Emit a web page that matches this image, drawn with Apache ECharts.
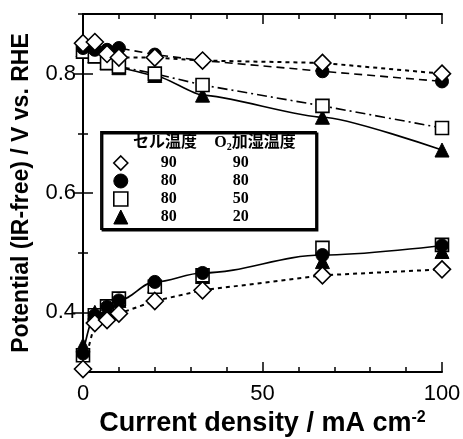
<!DOCTYPE html>
<html><head><meta charset="utf-8">
<script src="https://cdn.jsdelivr.net/npm/echarts@6/dist/echarts.min.js"></script>
<style>html,body{margin:0;padding:0;background:#fff}#c{width:463px;height:439px}</style>
</head><body><div id="c"></div>
<script>
// Current density (mA cm^-2)
const xValues = [0, 3.3, 6.7, 10, 20, 33.3, 66.7, 100];
const xTickLabels = [0, 50, 100];
const yTickLabels = [0.4, 0.6, 0.8];
// Legend table: cell temp / O2 humidifier temp
const cellTemp = ['90', '80', '80', '80'];
const o2Temp = ['90', '80', '50', '20'];
const seriesNames = ['90/90', '80/80', '80/50', '80/20'];
// Upper branch
const d9090Hi = [0.851, 0.853, 0.833, 0.827, 0.827, 0.822, 0.818, 0.800];
const c8080Hi = [0.843, 0.840, 0.840, 0.843, 0.832, 0.822, 0.804, 0.787];
const s8050Hi = [0.837, 0.829, 0.818, 0.812, 0.800, 0.781, 0.746, 0.709];
const t8020Hi = [0.840, 0.830, 0.818, 0.810, 0.797, 0.764, 0.727, 0.672];
// Lower branch
const d9090Lo = [0.305, 0.382, 0.387, 0.398, 0.419, 0.437, 0.462, 0.472];
const c8080Lo = [0.331, 0.395, 0.409, 0.420, 0.451, 0.466, 0.496, 0.512];
const s8050Lo = [0.328, 0.395, 0.410, 0.423, 0.443, 0.462, 0.508, 0.513];
const t8020Lo = [0.345, 0.400, 0.405, 0.420, 0.445, 0.460, 0.485, 0.502];

const pts = ys => xValues.map((x, i) => [x, ys[i]]);
const chart = echarts.init(document.getElementById('c'), null, {renderer: 'canvas'});

const hollow = {color: '#fff', borderColor: '#000', borderWidth: 1.6};
const filled = {color: '#000', borderColor: '#000', borderWidth: 1};
const mk = (name, data, symbol, size, item, line, smooth) => ({
  type: 'line', name, data: pts(data), symbol, symbolSize: size,
  itemStyle: item, smooth: smooth || false, smoothMonotone: 'x',
  lineStyle: line ? Object.assign({color: '#000', width: 1.6}, line) : {width: 0, opacity: 0},
  showSymbol: true, animation: false, z: 3
});

const base = 'Liberation Sans';
const serif = "'Liberation Serif', 'Noto Sans CJK JP'";

const option = {
  backgroundColor: '#fff',
  animation: false,
  grid: {left: 83, right: 21, top: 14, bottom: 67, containLabel: false, outerBoundsMode: 'none'},
  xAxis: [
    {type: 'value', min: 0, max: 100, interval: 10, position: 'bottom',
     axisLine: {lineStyle: {color: '#000', width: 2}},
     axisTick: {inside: true, length: 5, lineStyle: {color: '#000', width: 1.5}},
     axisLabel: {customValues: xTickLabels, fontFamily: base, fontSize: 22, color: '#000', margin: 11},
     splitLine: {show: false},
     name: 'Current density / mA cm{sup|-2}', nameLocation: 'middle', nameGap: 38,
     nameTextStyle: {fontFamily: base, fontWeight: 'bold', fontSize: 27, color: '#000',
       rich: {sup: {fontFamily: base, fontWeight: 'bold', fontSize: 16, color: '#000', verticalAlign: 'top', padding: [0,0,12,0]}}}},
    {type: 'value', min: 0, max: 100, interval: 50, position: 'bottom', gridIndex: 0,
     axisLine: {show: false}, axisLabel: {show: false}, splitLine: {show: false},
     axisTick: {inside: true, length: 10, lineStyle: {color: '#000', width: 1.5}}},
    {type: 'value', min: 0, max: 100, interval: 10, position: 'top',
     axisLine: {lineStyle: {color: '#000', width: 2}}, axisLabel: {show: false}, splitLine: {show: false},
     axisTick: {inside: true, length: 5, lineStyle: {color: '#000', width: 1.5}}},
    {type: 'value', min: 0, max: 100, interval: 50, position: 'top',
     axisLine: {show: false}, axisLabel: {show: false}, splitLine: {show: false},
     axisTick: {inside: true, length: 10, lineStyle: {color: '#000', width: 1.5}}}
  ],
  yAxis: [
    {type: 'value', min: 0.3, max: 0.9, interval: 0.1, position: 'left',
     axisLine: {lineStyle: {color: '#000', width: 2}},
     axisTick: {inside: true, length: 5, lineStyle: {color: '#000', width: 1.5}},
     axisLabel: {customValues: yTickLabels, formatter: v => v.toFixed(1), fontFamily: base, fontSize: 22, color: '#000', margin: 7},
     splitLine: {show: false},
     name: 'Potential (IR-free) / V vs. RHE', nameLocation: 'middle', nameGap: 50,
     nameTextStyle: {fontFamily: base, fontWeight: 'bold', fontSize: 23, color: '#000'}},
    {type: 'value', min: 0.3, max: 0.9, interval: 0.1, position: 'left',
     axisLine: {show: false}, axisLabel: {show: false}, splitLine: {show: false},
     axisTick: {customValues: yTickLabels, inside: true, length: 10, lineStyle: {color: '#000', width: 1.5}}},
    {type: 'value', min: 0.3, max: 0.9, interval: 0.1, position: 'right',
     axisLine: {lineStyle: {color: '#000', width: 2}}, axisLabel: {show: false}, splitLine: {show: false},
     axisTick: {inside: true, length: 5, lineStyle: {color: '#000', width: 1.5}}},
    {type: 'value', min: 0.3, max: 0.9, interval: 0.1, position: 'right',
     axisLine: {show: false}, axisLabel: {show: false}, splitLine: {show: false},
     axisTick: {customValues: yTickLabels, inside: true, length: 10, lineStyle: {color: '#000', width: 1.5}}}
  ],
  legend: {
    orient: 'vertical', left: 113, top: 155, itemWidth: 14, itemHeight: 14, itemGap: 2, padding: 0,
    selectedMode: false, z: 20,
    data: [
      {name: seriesNames[0], icon: 'diamond', itemStyle: hollow},
      {name: seriesNames[1], icon: 'circle', itemStyle: filled},
      {name: seriesNames[2], icon: 'rect', itemStyle: hollow},
      {name: seriesNames[3], icon: 'triangle', itemStyle: filled}
    ],
    formatter: n => { const i = seriesNames.indexOf(n); return '{a|' + cellTemp[i] + '}{b|' + o2Temp[i] + '}'; },
    textStyle: {lineHeight: 14, rich: {
      a: {width: 72, align: 'center', lineHeight: 14, fontFamily: serif, fontWeight: 'bold', fontSize: 16, color: '#000'},
      b: {width: 72, align: 'center', lineHeight: 14, fontFamily: serif, fontWeight: 'bold', fontSize: 16, color: '#000'}}}
  },
  graphic: [
    {type: 'rect', z: 10, shape: {x: 101, y: 132, width: 215, height: 97},
     style: {fill: '#fff', stroke: '#000', lineWidth: 1.8, shadowColor: '#000', shadowOffsetX: 1.5, shadowOffsetY: 1.5, shadowBlur: 0}},
    {type: 'text', z: 11, x: 165, y: 143, style: {text: 'セル温度', fontFamily: serif, fontWeight: 'bold', fontSize: 16, fill: '#000', align: 'center', verticalAlign: 'middle'}},
    {type: 'text', z: 11, x: 255, y: 143, style: {text: 'O{s|2}加湿温度', fontFamily: serif, fontWeight: 'bold', fontSize: 16, fill: '#000', align: 'center', verticalAlign: 'middle',
      rich: {s: {fontFamily: serif, fontWeight: 'bold', fontSize: 10, fill: '#000', padding: [8, 0, 0, 0]}}}}
  ],
  series: [
    mk(seriesNames[3], t8020Hi, 'triangle', 14, filled, {type: 'solid'}, 0.2),
    mk(seriesNames[3], t8020Lo, 'triangle', 14, filled, null),
    mk(seriesNames[2], s8050Hi, 'rect', 13, hollow, {type: [10, 4, 2, 4]}),
    mk(seriesNames[2], s8050Lo, 'rect', 13, hollow, null),
    mk(seriesNames[1], c8080Hi, 'circle', 13, filled, {type: [8, 5]}),
    mk(seriesNames[1], c8080Lo, 'circle', 13, filled, {type: 'solid'}, 0.35),
    mk(seriesNames[0], d9090Hi, 'diamond', 17, hollow, {type: [4, 4], width: 2}),
    mk(seriesNames[0], d9090Lo, 'diamond', 17, hollow, {type: [4, 4], width: 2})
  ]
};
chart.setOption(option);
</script></body></html>
